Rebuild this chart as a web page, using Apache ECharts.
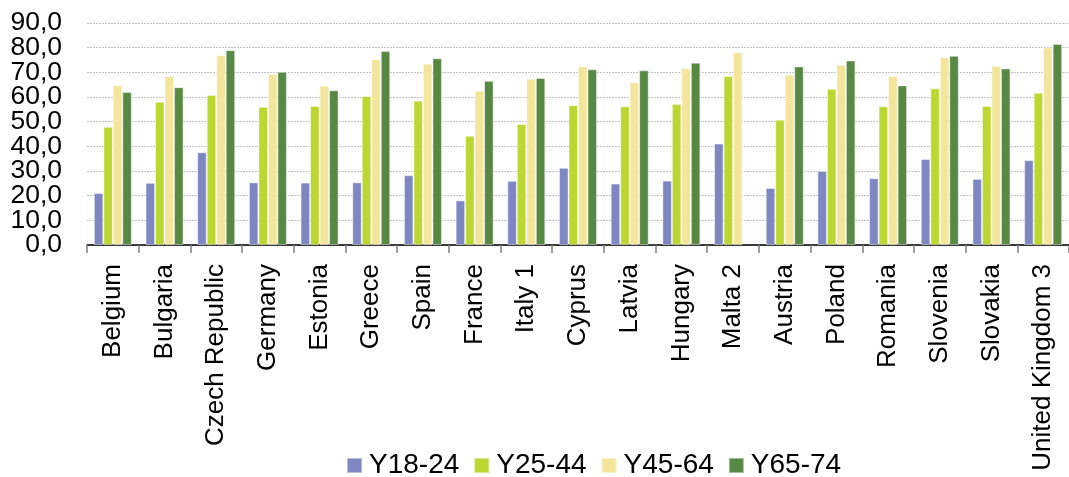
<!DOCTYPE html>
<html>
<head>
<meta charset="utf-8">
<script src="https://cdn.jsdelivr.net/npm/echarts@6/dist/echarts.min.js"></script>
<style>
  html, body { margin: 0; padding: 0; background: #ffffff; }
  #chart { width: 1069px; height: 477px; }
</style>
</head>
<body>
<div id="chart"></div>
<script>
// Countries on the category axis
const countries = ['Belgium', 'Bulgaria', 'Czech Republic', 'Germany', 'Estonia', 'Greece', 'Spain',
  'France', 'Italy 1', 'Cyprus', 'Latvia', 'Hungary', 'Malta 2', 'Austria', 'Poland', 'Romania',
  'Slovenia', 'Slovakia', 'United Kingdom 3'];

// Age groups (series names)
const ageGroups = ['Y18-24', 'Y25-44', 'Y45-64', 'Y65-74'];

// Values per age group, one per country
const y18_24 = [21.1, 25.2, 37.6, 25.4, 25.3, 25.4, 28.3, 18.1, 26.0, 31.3, 24.9, 26.1, 41.1, 23.1, 30.0, 27.1, 34.9, 26.8, 34.4];
const y25_44 = [47.9, 58.1, 60.8, 56.0, 56.4, 60.4, 58.5, 44.3, 49.1, 56.7, 56.2, 57.2, 68.5, 50.8, 63.3, 56.2, 63.5, 56.4, 61.7];
const y45_64 = [64.8, 68.5, 76.9, 69.3, 64.6, 75.4, 73.5, 62.5, 67.4, 72.5, 66.0, 71.7, 78.1, 69.0, 73.1, 68.5, 76.2, 72.6, 80.1];
const y65_74 = [62.0, 64.0, 79.0, 70.2, 62.7, 78.6, 75.7, 66.6, 67.7, 71.2, 70.8, 73.9, null, 72.4, 74.8, 64.7, 76.7, 71.6, 81.5];

// Value axis ticks
const yMin = 0, yMax = 90, yStep = 10;

const palette = ['#7f87c3', '#bdd732', '#f3e59b', '#588944'];
const seriesValues = [y18_24, y25_44, y45_64, y65_74];
const font = '"Liberation Sans", Arial, sans-serif';

const fmt = v => v.toFixed(1).replace('.', ',');
const isEnd = v => v === yMin || v === yMax;

// The two value axes share one scale: the first carries the inner tick
// labels and the grid, the second only the end labels, so that the large
// labels are never dropped by the overlap check at the ends.
function valueAxis(showEnds) {
  return {
    type: 'value',
    position: 'left',
    min: yMin,
    max: yMax,
    interval: yStep,
    axisLine: { show: false },
    axisTick: { show: false },
    axisLabel: {
      margin: 25,
      showMinLabel: showEnds,
      showMaxLabel: showEnds,
      fontFamily: font,
      fontSize: 26.5,
      color: '#000000',
      formatter: v => (isEnd(v) === showEnds ? fmt(v) : '')
    },
    splitLine: {
      show: !showEnds,
      lineStyle: { color: '#c4c4c4', type: [2, 1], width: 1 }
    }
  };
}

const chart = echarts.init(document.getElementById('chart'), null, { renderer: 'canvas' });

chart.setOption({
  animation: false,
  backgroundColor: '#ffffff',
  color: palette,
  grid: { left: 87, right: -8, top: 23, bottom: 232, containLabel: false },
  legend: {
    data: ageGroups,
    left: 346,
    top: 450.5,
    padding: 0,
    itemWidth: 15,
    itemHeight: 15,
    itemGap: 14,
    icon: 'rect',
    textStyle: {
      fontFamily: font,
      fontSize: 28,
      color: '#000000',
      lineHeight: 30,
      padding: [0, 0, 0, 2]
    }
  },
  xAxis: {
    type: 'category',
    data: countries,
    axisLine: { lineStyle: { color: '#000000', width: 1.5 } },
    axisTick: { show: true, length: 8, lineStyle: { color: '#7f7f7f', width: 1.5 } },
    axisLabel: {
      interval: 0,
      rotate: 90,
      margin: 19,
      fontFamily: font,
      fontSize: 26,
      color: '#000000'
    }
  },
  yAxis: [valueAxis(false), valueAxis(true)],
  series: ageGroups.map((name, i) => ({
    name: name,
    type: 'bar',
    data: seriesValues[i],
    yAxisIndex: 0,
    barWidth: 9.5,
    barGap: '0%',
    itemStyle: {
      color: palette[i],
      borderColor: 'rgba(255,255,255,0.45)',
      borderWidth: 1
    }
  }))
});
</script>
</body>
</html>
